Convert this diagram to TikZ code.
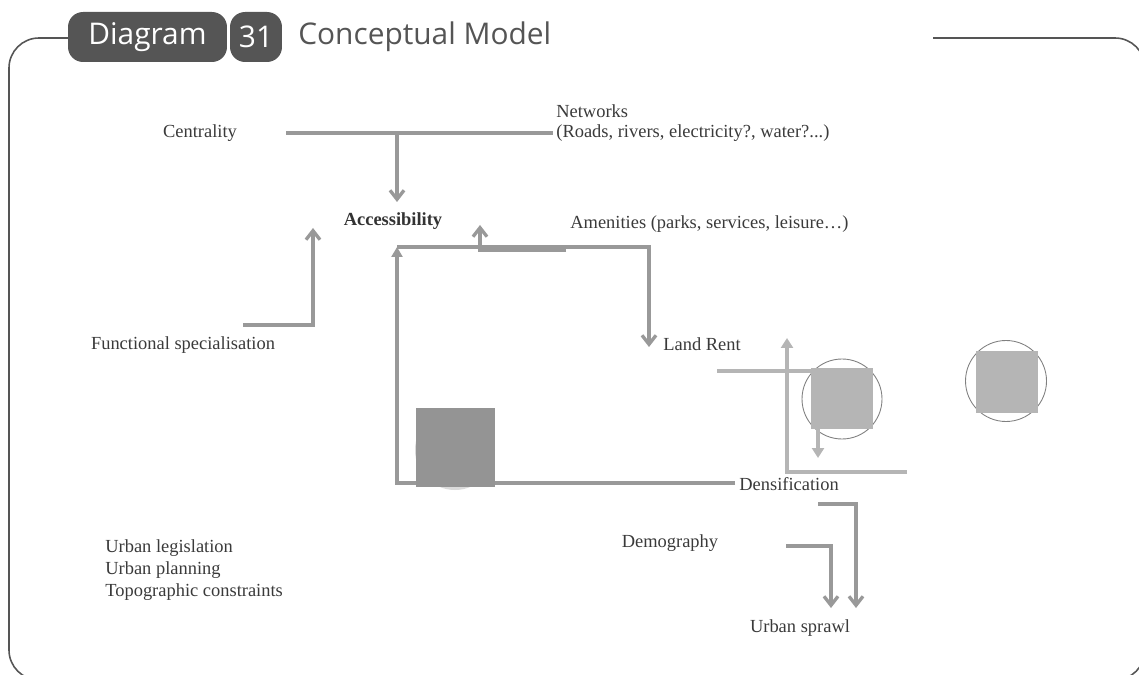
\documentclass[tikz,border=0pt]{standalone}
\usepackage{fontspec}
\setmainfont{Liberation Serif}
\newfontfamily\titlefont{Open Sans}
\usetikzlibrary{arrows.meta}
\definecolor{linegray}{HTML}{999999}
\definecolor{palegray}{HTML}{B5B5B5}
\definecolor{boxgray}{HTML}{949494}
\definecolor{pillgray}{HTML}{555555}
\definecolor{textgray}{HTML}{3A3A3A}
\tikzset{
  lbl/.style={font=\fontsize{10.5}{12.5}\selectfont, text=textgray, inner sep=0pt},
  pill/.style={fill=pillgray, rounded corners=0.3cm, minimum height=1cm, text=white,
    font=\titlefont\fontsize{17}{20}\selectfont, inner sep=0pt},
  link/.style={draw=linegray, line width=1.9pt, -{Straight Barb[length=1.8mm,width=2.8mm]}},
  bare/.style={draw=linegray, line width=1.9pt},
  loopline/.style={draw=linegray, line width=2.4pt},
  paleline/.style={draw=palegray, line width=2.1pt},
  ring/.style={draw=gray, line width=0.5pt}
}
\begin{document}
\begin{tikzpicture}[x=0.02cm,y=-0.02cm]
\useasboundingbox (0,0) rectangle (1139,675);
\clip (0,0) rectangle (1139,675);
\draw [pillgray, line width=0.9pt, rounded corners=0.6cm] (70,38) -- (9,38) -- (9,680) -- (1145,680) -- (1145,38) -- (933,38);
\node [pill, minimum width=3.18cm] (diag) at (147.5,37) {Diagram};
\node [pill, minimum width=1.04cm] (num) at (256,37) {31};
\node [anchor=west, inner sep=0pt, text=pillgray, font=\titlefont\fontsize{17}{20}\selectfont] (title) at (298,37) {Conceptual Model};
\node [lbl] (cent) at (200,133) {Centrality};
\node [lbl, anchor=west, align=left, font=\fontsize{10.5}{11.4}\selectfont] (netw) at (556,123) {Networks\\(Roads, rivers, electricity?, water?...)};
\node [lbl, font=\bfseries\fontsize{10.5}{12.5}\selectfont, text=black!80] (access) at (393,221) {Accessibility};
\node [lbl, anchor=west] (amen) at (570,224) {Amenities (parks, services, leisure\dots)};
\node [lbl] (funcsp) at (183,345) {Functional specialisation};
\node [lbl, anchor=west] (rent) at (663,344) {Land Rent};
\node [lbl, anchor=west] (densif) at (739,484) {Densification};
\node [lbl] (demog) at (670,543) {Demography};
\node [lbl] (sprawl) at (800,628) {Urban sprawl};
\node [lbl, anchor=north west, align=left, font=\fontsize{10.5}{12.5}\selectfont] (constr) at (105,539) {Urban legislation\\Urban planning\\Topographic constraints};
\coordinate (netl) at (286,133);
\coordinate (netr) at (553,133);
\coordinate (netj) at (397,133);
\coordinate (accin) at (397,202);
\coordinate (funcs) at (243,325);
\coordinate (funct) at (313,228);
\coordinate (loops) at (735,483);
\coordinate (loopt) at (397,247);
\coordinate (rentt) at (649,347);
\coordinate (amens) at (566,250);
\coordinate (ament) at (480,225);
\coordinate (dens) at (818,504);
\coordinate (denst) at (856,608);
\coordinate (dems) at (786,546);
\coordinate (demt) at (831,608);
\fill [gray!28] (455,450) circle (40);
\draw [bare] (netl) -- (netr);
\draw [link] (netj) -- (accin);
\draw [link] (funcs) -| (funct);
\draw [link] (loopt) -| (rentt);
\draw [link] (amens) -| (ament);
\draw [loopline, -{Triangle[length=2mm,width=2.2mm]}] (loops) -| (loopt);
\fill [boxgray] (416,408) rectangle (495,487);
\draw [link] (dens) -| (denst);
\draw [link] (dems) -| (demt);
\draw [paleline] (717,371) -- (812,371);
\draw [paleline, -{Triangle[length=2mm,width=2.4mm]}] (907,472) -| (787,338);
\draw [ring] (842,399) circle (40);
\fill [palegray] (811,368) rectangle (873,429);
\draw [paleline, -{Triangle[length=2mm,width=2.4mm]}] (818,429) -- (818,458);
\draw [ring] (1006,381) circle (40.5);
\fill [palegray] (976,351) rectangle (1038,413);
\end{tikzpicture}
\end{document}
